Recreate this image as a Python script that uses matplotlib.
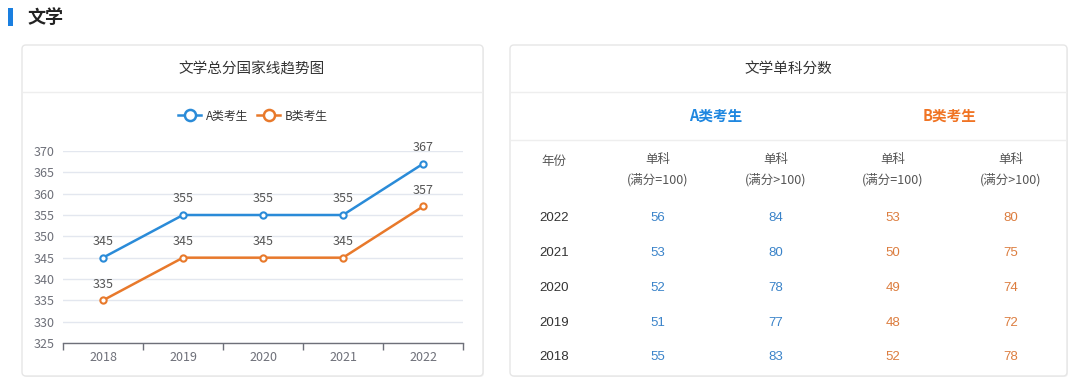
import matplotlib
matplotlib.use("Agg")
import matplotlib.pyplot as plt
from matplotlib.patches import FancyBboxPatch, Rectangle
from matplotlib.lines import Line2D

plt.rcParams['font.family'] = ['Noto Sans CJK SC', 'DejaVu Sans']

# ---------------- data ----------------
section_title = "文学"
chart_title = "文学总分国家线趋势图"
table_title = "文学单科分数"
years = ["2018", "2019", "2020", "2021", "2022"]
series_names = ["A类考生", "B类考生"]
total_a = [345, 355, 355, 355, 367]
total_b = [335, 345, 345, 345, 357]
y_ticks = [325, 330, 335, 340, 345, 350, 355, 360, 365, 370]

table_years = ["2022", "2021", "2020", "2019", "2018"]
a_single_100 = [56, 53, 52, 51, 55]
a_single_gt100 = [84, 80, 78, 77, 83]
b_single_100 = [53, 50, 49, 48, 52]
b_single_gt100 = [80, 75, 74, 72, 78]
col_year_label = "年份"
col_labels = ["单科\n(满分=100)", "单科\n(满分>100)", "单科\n(满分=100)", "单科\n(满分>100)"]

BLUE = "#2a8bd8"
ORANGE = "#e8792b"
TBL_BLUE = "#3a83c9"
TBL_ORANGE = "#dc7d3f"
NUM_FONT = ['Liberation Sans', 'Noto Sans CJK SC']

W, H = 1080, 385
fig = plt.figure(figsize=(W / 100, H / 100), dpi=100)
fig.patch.set_facecolor("white")

# overlay axes in pixel coords (y down)
bg = fig.add_axes([0, 0, 1, 1], zorder=0)
bg.set_xlim(0, W)
bg.set_ylim(H, 0)
bg.axis("off")

# section title
bg.add_patch(Rectangle((8, 8), 5, 18, color="#1a7fe0", lw=0))
bg.text(27, 17, section_title, fontsize=13, fontweight="bold", color="#222",
        va="center", ha="left")

def card(x0, y0, x1, y1):
    bg.add_patch(FancyBboxPatch((x0 + 1, y0 + 1), x1 - x0, y1 - y0,
                                boxstyle="round,pad=0,rounding_size=4",
                                fc="#f2f2f2", ec="none", zorder=0))
    bg.add_patch(FancyBboxPatch((x0, y0), x1 - x0, y1 - y0,
                                boxstyle="round,pad=0,rounding_size=4",
                                fc="white", ec="#e6e6e6", lw=1, zorder=1))

card(22, 45, 483, 376)
card(510, 45, 1067, 376)

# card headers
bg.text(252, 69, chart_title, fontsize=10.5, color="#333", ha="center", va="center", zorder=2)
bg.plot([23, 482], [92, 92], color="#eeeeee", lw=1, zorder=2)
bg.text(788, 69, table_title, fontsize=10.5, color="#333", ha="center", va="center", zorder=2)
bg.plot([511, 1066], [92, 92], color="#eeeeee", lw=1, zorder=2)
bg.plot([511, 1066], [140, 140], color="#eeeeee", lw=1, zorder=2)

# table group titles
bg.text(716, 116, series_names[0], fontsize=10.5, fontweight="bold", color="#1f87e0",
        ha="center", va="center", zorder=2)
bg.text(950, 116, series_names[1], fontsize=10.5, fontweight="bold", color="#f07424",
        ha="center", va="center", zorder=2)

# table header
col_x = [554, 658, 776, 893, 1011]
bg.text(col_x[0], 161, col_year_label, fontsize=9, color="#555", ha="center", va="center", zorder=2)
for cx, lab in zip(col_x[1:], col_labels):
    top, bottom = lab.split("\n")
    bg.text(cx, 160, top, fontsize=9, color="#555", ha="center", va="center", zorder=2)
    bg.text(cx, 180, bottom, fontsize=9, color="#555", ha="center", va="center", zorder=2)

row_y = [218, 253, 288, 323, 357]
for i, yr in enumerate(table_years):
    y = row_y[i]
    kw = dict(fontsize=9.5, ha="center", va="center", zorder=2, family=NUM_FONT)
    bg.text(col_x[0], y, yr, color="#333", **kw)
    bg.text(col_x[1], y, str(a_single_100[i]), color=TBL_BLUE, **kw)
    bg.text(col_x[2], y, str(a_single_gt100[i]), color=TBL_BLUE, **kw)
    bg.text(col_x[3], y, str(b_single_100[i]), color=TBL_ORANGE, **kw)
    bg.text(col_x[4], y, str(b_single_gt100[i]), color=TBL_ORANGE, **kw)

# ---------------- line chart ----------------
ax_l, ax_r = 63, 463
ax_t, ax_b = 151, 343
ax = fig.add_axes([ax_l / W, (H - ax_b) / H, (ax_r - ax_l) / W, (ax_b - ax_t) / H], zorder=3)
ax.patch.set_alpha(0)
x = list(range(len(years)))
ax.set_xlim(-0.5, len(years) - 0.5)
ax.set_ylim(y_ticks[0], y_ticks[-1])
ax.set_yticks(y_ticks)
ax.yaxis.grid(True, color="#e3e7ef", lw=1)
ax.set_axisbelow(True)
for s in ["top", "right", "left"]:
    ax.spines[s].set_visible(False)
ax.spines["bottom"].set_color("#6e7079")
ax.spines["bottom"].set_linewidth(1)
ax.tick_params(axis="y", length=0, pad=6, labelsize=9, labelcolor="#6e7079")
ax.set_xticks(x)
ax.set_xticklabels(years)
ax.tick_params(axis="x", which="major", length=0, pad=6, labelsize=9, labelcolor="#6e7079")
ax.set_xticks([i - 0.5 for i in range(len(years) + 1)], minor=True)
ax.tick_params(axis="x", which="minor", length=5, width=1, color="#6e7079", direction="out")

for vals, col in [(total_a, BLUE), (total_b, ORANGE)]:
    ax.plot(x, vals, color=col, lw=1.8, marker="o", markersize=4.5,
            markerfacecolor="white", markeredgecolor=col, markeredgewidth=1.5,
            clip_on=False, zorder=4)
    for xi, v in zip(x, vals):
        ax.annotate(str(v), (xi, v), xytext=(0, 7), textcoords="offset points",
                    ha="center", va="bottom", fontsize=9, color="#555", zorder=5)

handles = [Line2D([], [], color=c, lw=1.8, marker="o", markersize=8,
                  markerfacecolor="white", markeredgecolor=c, markeredgewidth=1.8)
           for c in (BLUE, ORANGE)]
fig.legend(handles, series_names, loc="center", bbox_to_anchor=(253 / W, (H - 116) / H),
           ncol=2, frameon=False, fontsize=8.5, handlelength=1.9, handletextpad=0.4,
           columnspacing=0.8, labelcolor="#333")

fig.savefig("out.png", dpi=100)
